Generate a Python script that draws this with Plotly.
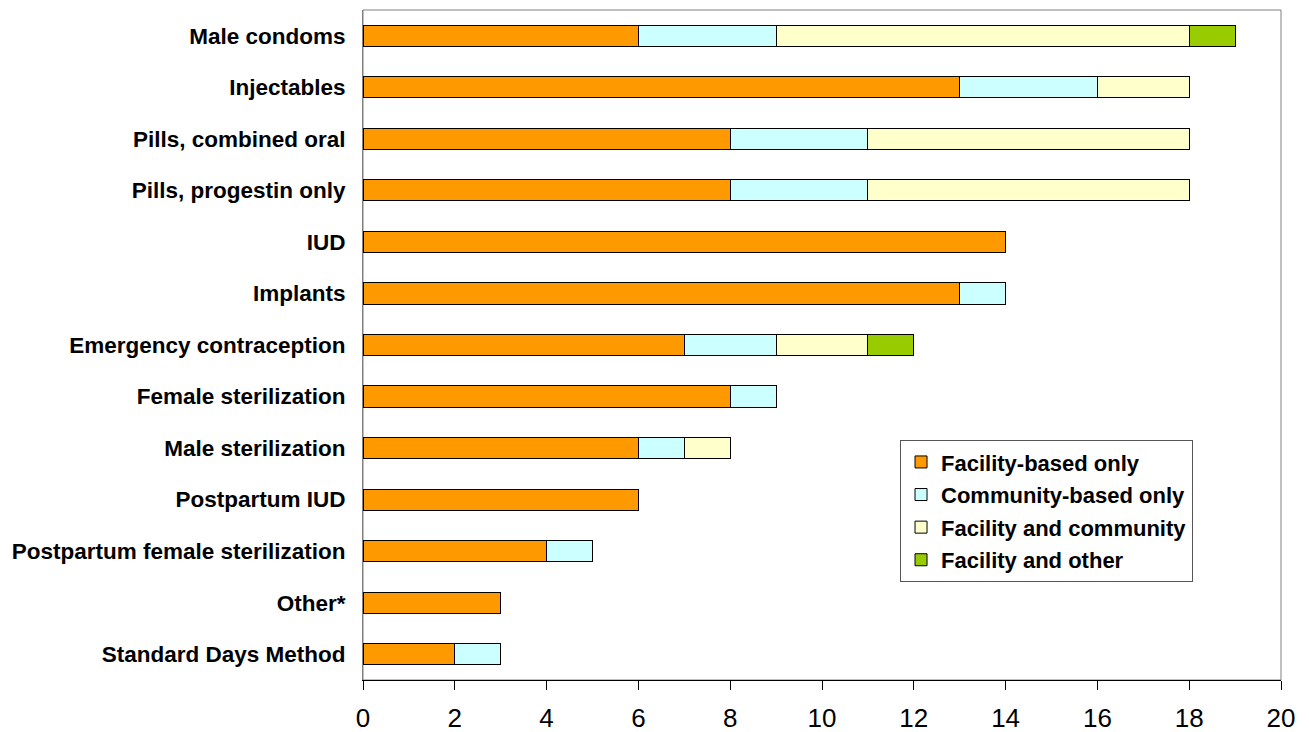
import plotly.graph_objects as go

categories = [
    "Male condoms", "Injectables", "Pills, combined oral", "Pills, progestin only",
    "IUD", "Implants", "Emergency contraception", "Female sterilization",
    "Male sterilization", "Postpartum IUD", "Postpartum female sterilization",
    "Other*", "Standard Days Method",
]
facility_only = [6, 13, 8, 8, 14, 13, 7, 8, 6, 6, 4, 3, 2]
community_only = [3, 3, 3, 3, 0, 1, 2, 1, 1, 0, 1, 0, 1]
facility_community = [9, 2, 7, 7, 0, 0, 2, 0, 1, 0, 0, 0, 0]
facility_other = [1, 0, 0, 0, 0, 0, 1, 0, 0, 0, 0, 0, 0]

series = [
    ("Facility-based only", facility_only, "#FF9900"),
    ("Community-based only", community_only, "#CCFFFF"),
    ("Facility and community", facility_community, "#FFFFCC"),
    ("Facility and other", facility_other, "#99CC00"),
]

FONT = "Liberation Sans, Arial, sans-serif"
fig = go.Figure()
for i, (name, vals, col) in enumerate(series):
    fig.add_trace(go.Bar(
        y=categories, x=vals, name=name, orientation="h",
        marker=dict(color=col, line=dict(color="black", width=1)),
        legendgroup=f"g{i}",
    ))

fig.update_layout(
    barmode="stack",
    bargap=0.59,
    width=1309, height=732,
    margin=dict(l=355, r=36, t=2, b=60),
    plot_bgcolor="white", paper_bgcolor="white",
    font=dict(family=FONT, color="black"),
    showlegend=True,
    legend=dict(
        x=0.585, xanchor="left", y=0.358, yanchor="top",
        bgcolor="white", bordercolor="#555555", borderwidth=1,
        font=dict(size=22, family=FONT, color="black", weight="bold"),
        traceorder="grouped", tracegroupgap=1,
        itemwidth=30,
    ),
    xaxis=dict(
        range=[0, 20], dtick=2, tick0=0, showgrid=False, zeroline=False,
        showline=True, linecolor="black", linewidth=1,
        ticks="outside", ticklen=9, tickcolor="black", ticklabelstandoff=6,
        tickfont=dict(size=26, family=FONT, color="black"),
    ),
    yaxis=dict(
        autorange="reversed", showgrid=False, zeroline=False,
        showline=True, linecolor="#808080", linewidth=1,
        ticks="", ticklabelstandoff=12,
        tickfont=dict(size=22.5, family=FONT, color="black", weight="bold"),
    ),
    shapes=[dict(type="rect", xref="paper", yref="paper", x0=0, x1=1, y0=0, y1=1,
                 line=dict(color="#808080", width=1), layer="below")],
)

fig.write_html("out.html")
